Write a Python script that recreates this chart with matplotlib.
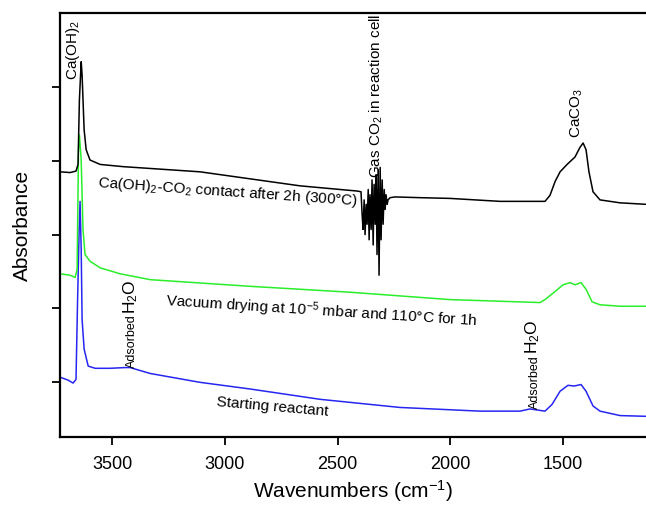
import matplotlib
matplotlib.use('Agg')
import matplotlib.pyplot as plt

plt.rcParams['font.family'] = ['Liberation Sans', 'DejaVu Sans']
plt.rcParams['mathtext.fontset'] = 'custom'
plt.rcParams['mathtext.rm'] = 'Liberation Sans'
plt.rcParams['mathtext.it'] = 'Liberation Sans:italic'
plt.rcParams['mathtext.bf'] = 'Liberation Sans:bold'
plt.rcParams['mathtext.default'] = 'regular'

# ---- data (wavenumber cm-1, absorbance in arbitrary offset units) ----
wn_co2 = [3731, 3686, 3660, 3651, 3645, 3637, 3633, 3624, 3615, 3598, 3553, 3451,
          3110, 2666, 2414, 2396,
          2391, 2387, 2382, 2378, 2373, 2369, 2364, 2360, 2356, 2351, 2347, 2342,
          2338, 2333, 2329, 2325, 2320, 2316, 2311, 2307, 2302, 2298, 2293, 2289,
          2285, 2280, 2276, 2267, 2245,
          2134, 2001, 1779, 1580, 1558, 1535, 1513, 1482, 1447, 1425, 1411, 1398,
          1385, 1367, 1336, 1247, 1132]
abs_co2 = [2.85, 2.84, 2.86, 2.95, 3.82, 4.34, 4.16, 3.42, 3.15, 3.01, 2.95, 2.92,
           2.85, 2.66, 2.59, 2.58,
           2.27, 2.07, 2.47, 2.00, 2.41, 2.14, 2.61, 1.93, 2.54, 2.07, 2.74, 1.86,
           2.68, 2.14, 2.81, 1.73, 2.88, 1.45, 2.91, 1.93, 2.74, 2.14, 2.61, 2.34,
           2.54, 2.41, 2.47, 2.50, 2.51,
           2.50, 2.49, 2.45, 2.45, 2.53, 2.72, 2.85, 2.95, 3.05, 3.18, 3.24, 3.15,
           2.85, 2.58, 2.47, 2.43, 2.41]

wn_vac = [3731, 3686, 3664, 3655, 3649, 3645, 3637, 3629, 3620, 3598, 3553, 3465,
          3331, 2888, 2445, 2001, 1602, 1580, 1535, 1500, 1469, 1447, 1420, 1398,
          1371, 1336, 1247, 1132]
abs_vac = [1.47, 1.45, 1.42, 1.53, 3.15, 3.35, 3.01, 2.07, 1.73, 1.64, 1.55, 1.47,
           1.39, 1.30, 1.22, 1.12, 1.08, 1.12, 1.23, 1.32, 1.35, 1.32, 1.35, 1.26,
           1.09, 1.05, 1.03, 1.03]

wn_start = [3731, 3695, 3673, 3660, 3653, 3646, 3642, 3637, 3633, 3624, 3606, 3575,
            3509, 3442, 3420, 3331, 3110, 2888, 2577, 2223, 1868, 1691, 1646, 1580,
            1549, 1513, 1478, 1451, 1420, 1398, 1367, 1336, 1247, 1132]
abs_start = [0.07, 0.03, -0.01, 0.04, 1.12, 2.07, 2.45, 1.80, 0.85, 0.45, 0.22, 0.19,
             0.19, 0.20, 0.20, 0.12, 0.00, -0.09, -0.23, -0.34, -0.39, -0.39, -0.36, -0.39,
             -0.30, -0.12, -0.04, -0.05, -0.03, -0.12, -0.32, -0.39, -0.45, -0.46]

x_ticks = [3500, 3000, 2500, 2000, 1500]
y_ticks = [0, 1, 2, 3, 4]

fig = plt.figure(figsize=(6.46, 5.07), dpi=100)
ax = fig.add_axes([60 / 646, 1 - 437 / 507, 586 / 646, 424 / 507])

ax.plot(wn_start, abs_start, color='#2626f2', lw=1.1)
ax.plot(wn_vac, abs_vac, color='#2aee2a', lw=1.1)
ax.plot(wn_co2, abs_co2, color='black', lw=1.1)

ax.set_xlim(3731, 1132)
ax.set_ylim(-0.74, 5.0)
ax.set_xticks(x_ticks)
ax.set_yticks(y_ticks)
ax.set_yticklabels([])
ax.spines['right'].set_visible(False)
for s in ['left', 'top', 'bottom']:
    ax.spines[s].set_linewidth(1.6)
ax.tick_params(direction='out', length=6, width=1.3, labelsize=13, pad=8)
ax.set_xlabel('Wavenumbers (cm$^{-1}$)', fontsize=15, labelpad=3)
ax.set_ylabel('Absorbance', fontsize=15, labelpad=6)

fs = 11
ax.text(3673, 4.5, 'Ca(OH)$_2$', rotation=90, ha='center', va='center', fontsize=fs)
ax.text(2328, 3.88, 'Gas CO$_2$ in reaction cell', rotation=90, ha='center', va='center', fontsize=fs)
ax.text(1440, 3.65, 'CaCO$_3$', rotation=90, ha='center', va='center', fontsize=fs)
ax.text(2986, 2.58, 'Ca(OH)$_2$-CO$_2$ contact after 2h (300°C)', rotation=-4,
        rotation_mode='anchor', ha='center', va='center', fontsize=fs)
ax.text(2569, 0.96, 'Vacuum drying at 10$^{-5}$ mbar and 110°C for 1h', rotation=-3.7,
        rotation_mode='anchor', ha='center', va='center', fontsize=fs)
ax.text(2790, -0.33, 'Starting reactant', rotation=-5,
        rotation_mode='anchor', ha='center', va='center', fontsize=fs)

# Adsorbed H2O labels
ax.text(3398, 0.20, 'Adsorbed', rotation=90, rotation_mode='anchor', ha='left',
        va='baseline', fontsize=9)
ax.text(3398, 0.93, 'H$_2$O', rotation=90, rotation_mode='anchor', ha='left',
        va='baseline', fontsize=12.5)
ax.text(1612, -0.36, 'Adsorbed', rotation=90, rotation_mode='anchor', ha='left',
        va='baseline', fontsize=9)
ax.text(1612, 0.38, 'H$_2$O', rotation=90, rotation_mode='anchor', ha='left',
        va='baseline', fontsize=12.5)

fig.savefig('out.png', dpi=100)
